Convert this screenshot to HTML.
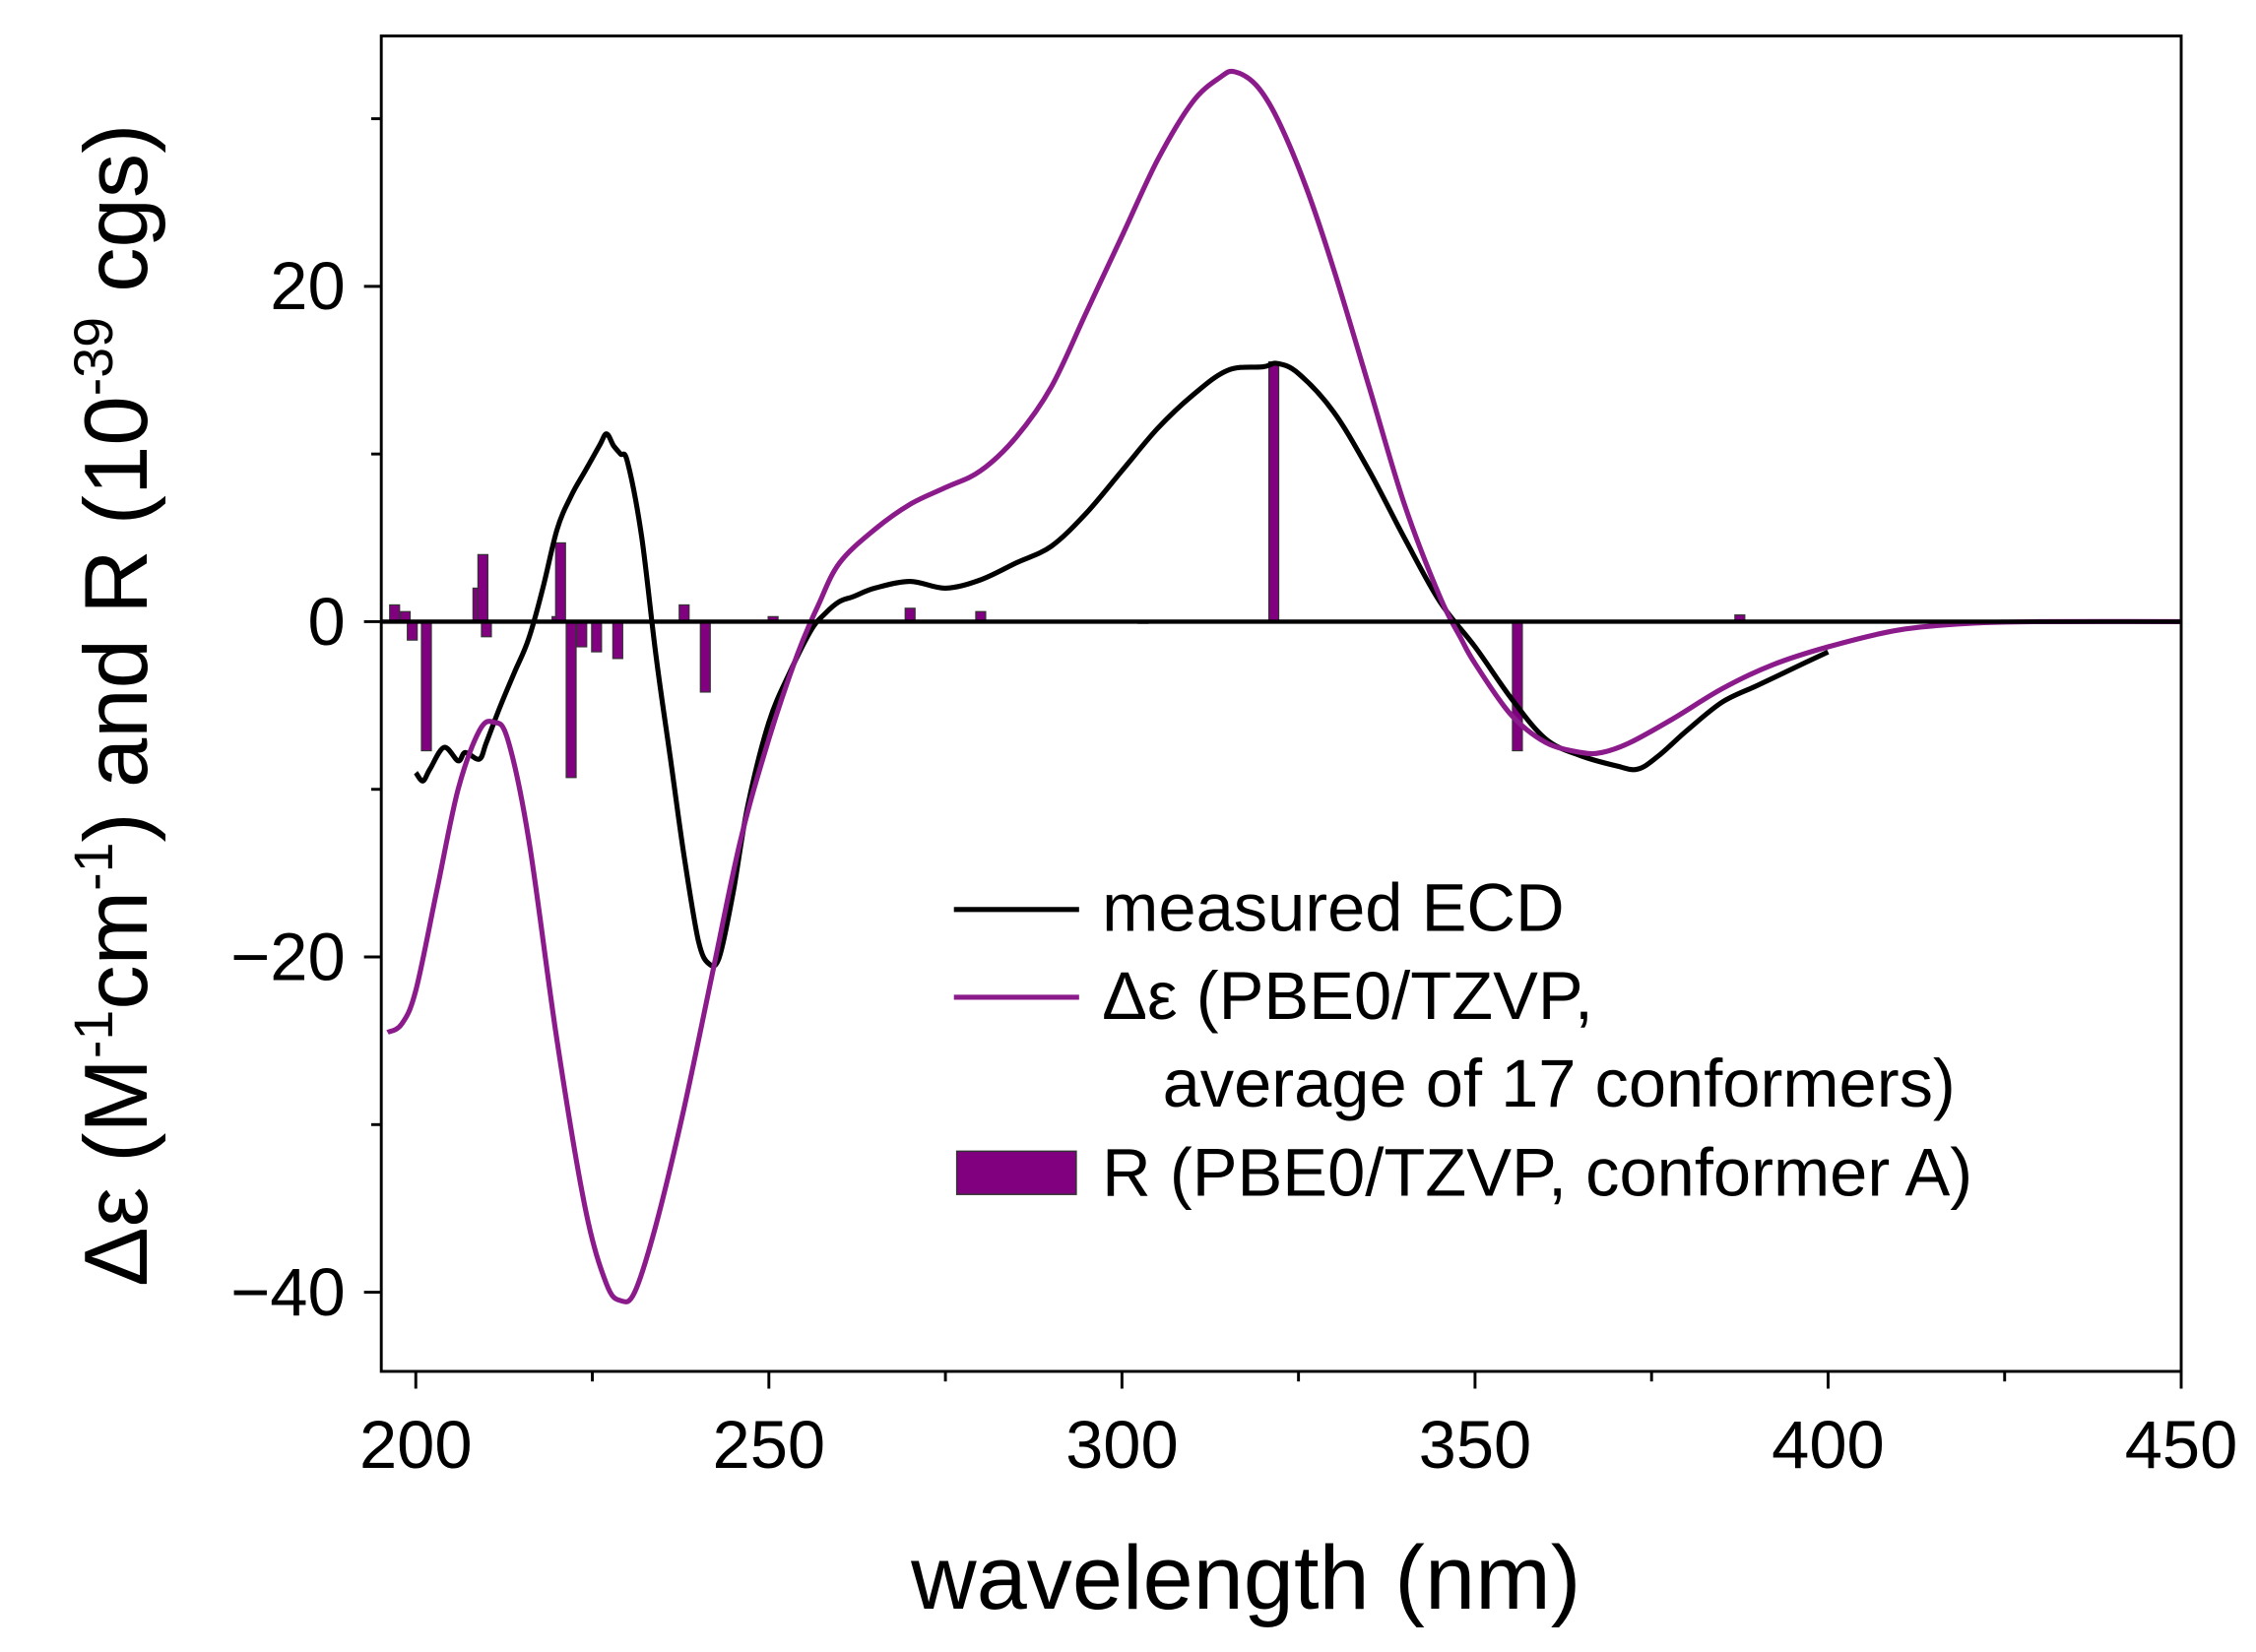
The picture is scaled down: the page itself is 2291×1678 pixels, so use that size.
<!DOCTYPE html>
<html><head><meta charset="utf-8"><style>
html,body{margin:0;padding:0;background:#fff;}
svg{display:block;font-family:"Liberation Sans",Arial,sans-serif;}
</style></head><body>
<svg id="chart" width="2291" height="1678" viewBox="0 0 1568 1148" preserveAspectRatio="none" xmlns="http://www.w3.org/2000/svg">
<g id="bars"></g>
<path id="measured" fill="none" stroke="#000" stroke-width="3.5" stroke-linejoin="round"/>
<path id="calc" fill="none" stroke="#8b1a8b" stroke-width="3.5" stroke-linejoin="round"/>
<line id="zero" stroke="#000" stroke-width="3"/>
<rect x="265" y="25" width="1251" height="928" fill="none" stroke="#000" stroke-width="2"/>
<g id="axes"></g>
<text x="866" y="1118" font-size="63" text-anchor="middle">wavelength (nm)</text>
<text transform="translate(102,490) rotate(-90)" font-size="62" text-anchor="middle">Δε (M<tspan dy="-24" font-size="38">-1</tspan><tspan dy="24">cm</tspan><tspan dy="-24" font-size="38">-1</tspan><tspan dy="24">) and R (10</tspan><tspan dy="-24" font-size="38">-39</tspan><tspan dy="24"> cgs)</tspan></text>
<g font-size="47">
<line x1="663" y1="632" x2="750" y2="632" stroke="#000" stroke-width="3.5"/>
<text x="766" y="647">measured ECD</text>
<line x1="663" y1="693" x2="750" y2="693" stroke="#8b1a8b" stroke-width="3.5"/>
<text x="766" y="708">Δε (PBE0/TZVP,</text>
<text x="808" y="769">average of 17 conformers)</text>
<rect x="665" y="800" width="83" height="30" fill="#800080" stroke="#333" stroke-width="1"/>
<text x="766" y="831">R (PBE0/TZVP, conformer A)</text>
</g>
</svg>
<script>
const xTicks=[200,250,300,350,400,450];
const xMinor=[225,275,325,375,425];
const yTicks=[-40,-20,0,20];
const yMinor=[-30,-10,10,30];
const calcX=[196,198,200,203,206,209,211,213,216,220,224,227,229,231,234,238,242,246,250,254,257,260,265,270,275,280,285,290,295,300,305,310,314,316,319,322,326,330,335,340,345,348,350,355,360,365,368,372,378,385,392,400,410,420,430,450];
const calcY=[-24.5,-24,-22,-16,-10,-6.5,-6,-7,-13,-25,-35,-39.5,-40.5,-40,-36,-29,-21,-13,-7,-2,1,3.5,5.5,7,8,9,11,14,18.5,23,27.5,31,32.5,32.8,32,30,26,21,14,7,1.5,-1,-2.5,-5.5,-7.2,-7.8,-7.8,-7.2,-5.8,-4,-2.6,-1.5,-0.5,-0.1,0,0];
const measX=[200,201,202,204,206,207,209,210,212,214,216,218,220,222,224,226,227,228,229,230,232,234,236,238,240,241.5,243,245,247,250,253,256,258,260,262,265,270,275,280,285,290,295,300,305,310,315,320,322,325,330,335,340,345,350,355,360,365,370,373,376,380,385,390,395,400];
const measY=[-9,-9.5,-8.8,-7.5,-8.3,-7.8,-8.2,-7.2,-5,-3,-1,2,5.5,7.5,9,10.5,11.2,10.5,10,9.5,5,-2,-8,-14,-19,-20.4,-20,-16,-11,-6,-3,-0.5,0.5,1.2,1.5,2,2.4,2,2.5,3.5,4.5,6.5,9,11.5,13.5,15,15.2,15.4,14.8,12.5,9,5,1.2,-1.5,-4.5,-7,-8,-8.6,-8.8,-8,-6.5,-4.8,-3.8,-2.8,-1.8];
const barX=[197,198.5,199.5,201.5,208.8,209.5,210,220,220.5,222,223.5,225.6,228.6,238,241,250.6,270,280,303,321.5,356,387.5];
const barR=[1.0,0.6,-1.1,-7.7,2,4.0,-0.9,0.3,4.7,-9.3,-1.5,-1.8,-2.2,1.0,-4.2,0.3,0.8,0.6,-0.1,15.5,-7.7,0.4];
const NS="http://www.w3.org/2000/svg";
function sx(v){return 289+(v-200)*(1516-289)/250;}
function sy(v){return 432-v*233/20;}
function pathOf(xs,ys){
  const p=xs.map((x,i)=>[sx(x),sy(ys[i])]);
  let d='M'+p[0][0].toFixed(1)+' '+p[0][1].toFixed(1);
  for(let i=0;i<p.length-1;i++){
    const p0=p[Math.max(0,i-1)],p1=p[i],p2=p[i+1],p3=p[Math.min(p.length-1,i+2)];
    const c1x=p1[0]+(p2[0]-p0[0])/6,c1y=p1[1]+(p2[1]-p0[1])/6;
    const c2x=p2[0]-(p3[0]-p1[0])/6,c2y=p2[1]-(p3[1]-p1[1])/6;
    d+='C'+c1x.toFixed(1)+' '+c1y.toFixed(1)+' '+c2x.toFixed(1)+' '+c2y.toFixed(1)+' '+p2[0].toFixed(1)+' '+p2[1].toFixed(1);
  }
  return d;
}
document.getElementById('calc').setAttribute('d',pathOf(calcX,calcY));
document.getElementById('measured').setAttribute('d',pathOf(measX,measY));
const z=document.getElementById('zero');
z.setAttribute('x1',265);z.setAttribute('x2',1516);z.setAttribute('y1',sy(0));z.setAttribute('y2',sy(0));
const bars=document.getElementById('bars');
barX.forEach((x,i)=>{
  const r=document.createElementNS(NS,'rect');
  
  
  const w=sx(x+0.7)-sx(x-0.7);
  r.setAttribute('x',sx(x)-w/2);
  r.setAttribute('width',w);
  r.setAttribute('y',Math.min(sy(0),sy(barR[i])));
  r.setAttribute('height',Math.abs(sy(barR[i])-sy(0)));
  r.setAttribute('fill','#800080');
  r.setAttribute('stroke','#333');
  r.setAttribute('stroke-width','0.8');
  bars.appendChild(r);
});
const axes=document.getElementById('axes');
function ln(x1,y1,x2,y2){const l=document.createElementNS(NS,'line');l.setAttribute('x1',x1);l.setAttribute('y1',y1);l.setAttribute('x2',x2);l.setAttribute('y2',y2);l.setAttribute('stroke','#000');l.setAttribute('stroke-width','2');


axes.appendChild(l);}
function tx(x,y,s,anchor){const t=document.createElementNS(NS,'text');t.setAttribute('x',x);t.setAttribute('y',y);t.setAttribute('font-size','47');t.setAttribute('text-anchor',anchor);t.textContent=s;


axes.appendChild(t);}
xTicks.forEach(v=>{ln(sx(v),953,sx(v),965);tx(sx(v),1020,String(v),'middle');});
xMinor.forEach(v=>{ln(sx(v),953,sx(v),960);});
yTicks.forEach(v=>{ln(253,sy(v),265,sy(v));tx(240,sy(v)+16,v<0?'\u2212'+Math.abs(v):String(v),'end');});
yMinor.forEach(v=>{ln(258,sy(v),265,sy(v));});
</script>
</body></html>
